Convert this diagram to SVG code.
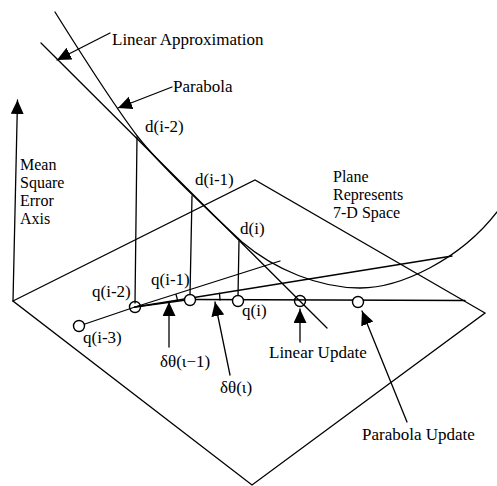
<svg xmlns="http://www.w3.org/2000/svg" width="497" height="486" viewBox="0 0 497 486">
<style>
.l{fill:none;stroke:#000;stroke-width:1.3;stroke-linecap:round}
.c{fill:#fff;stroke:#000;stroke-width:1.4}
.o{fill:none;stroke:#000;stroke-width:1.4}
text{font-family:"Liberation Serif","Times New Roman",serif;font-size:17px;fill:#000}
.s{font-size:16px}
</style>
<defs>
<marker id="ah" markerUnits="userSpaceOnUse" markerWidth="16" markerHeight="14" refX="14" refY="6.5" orient="auto">
<path d="M0,0 L14,6.5 L0,13 z" fill="#000"/>
</marker>
</defs>
<rect width="497" height="486" fill="#fff"/>
<g id="plane"><path class="l" d="M13,301 L255,180 L485,313 L252,485 Z"/></g>
<g id="axis"><line class="l" x1="13" y1="301" x2="17.5" y2="100" marker-end="url(#ah)"/>
<text class="s" x="20" y="170">Mean</text><text class="s" x="20" y="188">Square</text><text class="s" x="20" y="206">Error</text><text class="s" x="20" y="224">Axis</text></g>
<g id="connectors">
<line class="l" x1="41" y1="43" x2="327" y2="328"/>
<path class="l" d="M55,12 C80,52 110,100 138,137 C158,163 216,218 242,242 C275,270 320,288 360,288 C400,288 460,260 497,212"/>
<line class="l" x1="137" y1="137" x2="135" y2="303"/>
<line class="l" x1="192" y1="196" x2="190" y2="295"/>
<line class="l" x1="239" y1="241" x2="238" y2="296"/>
<line class="l" x1="79" y1="326" x2="135" y2="307"/>
<line class="l" x1="135" y1="307" x2="280" y2="261"/>
<line class="l" x1="135" y1="307" x2="452" y2="256"/>
<line class="l" x1="135" y1="307" x2="190" y2="299.5"/>
<line class="l" x1="190" y1="299.5" x2="465" y2="300.5"/>
<path class="l" d="M177.5,300.5 A43,43 0 0 0 176,294.5"/>
<path class="l" d="M220,300 A86,86 0 0 0 219.5,293.5"/>
<line class="l" x1="110" y1="33" x2="57" y2="60" marker-end="url(#ah)"/>
<line class="l" x1="172" y1="87" x2="118" y2="108" marker-end="url(#ah)"/>
<line class="l" x1="169" y1="347" x2="169" y2="302" marker-end="url(#ah)"/>
<line class="l" x1="230" y1="375" x2="215" y2="302" marker-end="url(#ah)"/>
<line class="l" x1="300" y1="342" x2="300" y2="309" marker-end="url(#ah)"/>
<line class="l" x1="407" y1="422" x2="362" y2="311" marker-end="url(#ah)"/>
</g>
<g id="points">
<g id="q-i-3"><circle class="c" cx="79" cy="326" r="5.5"/><text x="83" y="343">q(i-3)</text></g>
<g id="q-i-2"><circle class="o" cx="135" cy="307" r="5.5"/><text x="92" y="297">q(i-2)</text></g>
<g id="q-i-1"><circle class="c" cx="190" cy="300" r="5.5"/><text x="151" y="285">q(i-1)</text></g>
<g id="q-i"><circle class="c" cx="238" cy="301" r="5.5"/><text x="242" y="316">q(i)</text></g>
<g id="linear-update"><circle class="o" cx="300" cy="301" r="5.5"/><text x="269" y="358">Linear Update</text></g>
<g id="parabola-update"><circle class="c" cx="358" cy="302" r="5.5"/><text x="362" y="440">Parabola Update</text></g>
</g>
<g id="labels">
<text x="112" y="45">Linear Approximation</text>
<text x="173" y="92">Parabola</text>
<text x="145" y="132">d(i-2)</text>
<text x="195" y="185">d(i-1)</text>
<text x="240" y="234">d(i)</text>
<text x="160" y="367">δθ(ι−1)</text>
<text x="220" y="393">δθ(ι)</text>
<text class="s" x="333" y="182">Plane</text>
<text class="s" x="333" y="200">Represents</text>
<text class="s" x="333" y="218">7-D Space</text>
</g>
</svg>
